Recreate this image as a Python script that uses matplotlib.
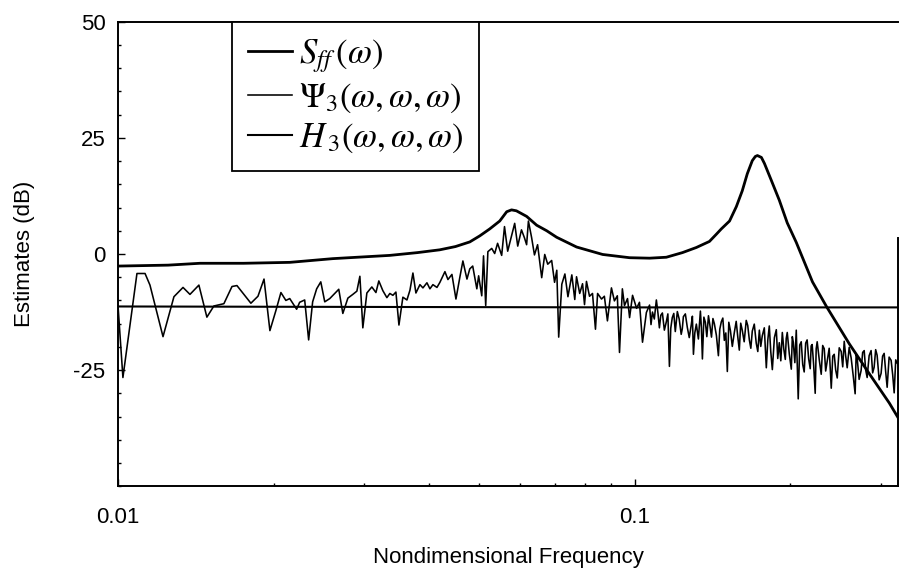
import matplotlib.pyplot as plt
from matplotlib.ticker import LogLocator, MultipleLocator, NullFormatter

# input spectrum S_ff (dB)
sff_freq = [0.01, 0.0125, 0.01441, 0.0175, 0.02151, 0.02605, 0.03358, 0.038,
            0.04196, 0.045, 0.04797, 0.05015,
            0.05243, 0.05482, 0.05655, 0.05778, 0.05905, 0.0618, 0.06463, 0.0676,
            0.07066, 0.07723, 0.08672, 0.09779, 0.1069, 0.1152, 0.1238, 0.1317,
            0.1396, 0.1441, 0.1472,
            0.1527, 0.1574, 0.1616, 0.1653, 0.169, 0.1713, 0.1729, 0.176, 0.1784,
            0.1839, 0.1906, 0.1975, 0.2056, 0.221, 0.2352, 0.2606, 0.2848, 0.3113,
            0.3255]
sff_db = [-2.6, -2.4, -2.0, -2.0, -1.8, -1.0, -0.3, 0.3,
          0.9, 1.6, 2.6, 3.9,
          5.4, 7.1, 9.1, 9.5, 9.3, 8.1, 6.2, 5.0,
          3.6, 1.5, -0.1, -0.8, -0.9, -0.7, 0.3, 1.4,
          2.7, 4.3, 5.4,
          7.1, 10.2, 13.6, 17.3, 20.1, 21.0, 21.2, 20.8, 19.5,
          15.9, 11.6, 6.7, 2.5, -6.0, -11.3, -19.4, -25.8, -32.1,
          -35.7]

# Psi_3(w,w,w) estimate (dB), low-frequency part
psi_lo_freq = [0.01, 0.01022, 0.01088, 0.01128, 0.01153, 0.01222, 0.01283, 0.01336,
               0.01378, 0.01434, 0.01486, 0.01533, 0.01603, 0.01662, 0.01699, 0.01808,
               0.01866, 0.01917, 0.01968, 0.02021, 0.02067, 0.02113, 0.0215,
               0.02217, 0.02247, 0.02298, 0.02339, 0.02381, 0.02424, 0.02469, 0.02513,
               0.0257, 0.02675, 0.02724, 0.02786, 0.02848, 0.029, 0.02939, 0.02978,
               0.03032, 0.031, 0.03157, 0.03198, 0.03256, 0.03315, 0.03359, 0.03405,
               0.03451, 0.03498, 0.0356, 0.03625, 0.03674, 0.03723, 0.03773, 0.03841,
               0.03893, 0.03963, 0.04016, 0.0407, 0.04144, 0.04199, 0.04294, 0.04352,
               0.0443, 0.0451, 0.04591, 0.04652, 0.04737,
               0.04797, 0.0486, 0.0495, 0.0499, 0.0506, 0.051, 0.0515, 0.052,
               0.0529, 0.0536, 0.0543, 0.0553, 0.056, 0.0568, 0.0578, 0.0586,
               0.0594, 0.0604, 0.0612, 0.0618, 0.0623, 0.0632, 0.064, 0.0649,
               0.0661, 0.067, 0.0679, 0.0691, 0.07, 0.0707, 0.0713, 0.0723,
               0.0733, 0.0743, 0.0756, 0.0766, 0.0772, 0.0783, 0.0793, 0.08,
               0.0807, 0.0818, 0.0829, 0.084, 0.0848, 0.0863, 0.0874, 0.0886,
               0.0902, 0.0914, 0.0926, 0.0935, 0.0947, 0.0956, 0.0969, 0.0978,
               0.0991, 0.1009, 0.1022, 0.1036, 0.1054]
psi_lo_db = [-11.2, -26.6, -4.2, -4.2, -6.7, -17.8, -9.2, -7.2,
             -8.7, -6.7, -13.6, -11.2, -10.7, -7.0, -6.8, -10.6,
             -9.1, -5.4, -16.5, -12.2, -8.3, -10.0, -9.6,
             -11.9, -10.4, -9.9, -18.5, -10.3, -7.5, -6.0, -10.3,
             -9.6, -7.6, -12.8, -9.5, -8.7, -8.0, -4.8, -15.9,
             -8.4, -7.1, -8.3, -5.8, -7.9, -9.4, -8.5, -8.9,
             -8.2, -15.3, -9.3, -9.9, -7.8, -4.1, -8.4, -6.6,
             -7.3, -6.2, -7.5, -6.6, -7.2, -6.1, -3.8, -5.5,
             -4.4, -9.7, -4.9, -1.5, -5.4,
             -3.2, -2.6, -7.5, -4.7, -9.0, -0.4, -11.1, 0.5,
             1.2, 0.1, 2.3, -0.3, 5.9, 0.6, 4.0, 6.6,
             1.7, 5.2, 3.5, 2.0, 7.1, 3.5, -0.2, 2.0,
             -5.1, -0.1, -2.2, -1.4, -6.1, -3.5, -17.9, -6.5,
             -4.3, -9.2, -4.5, -9.8, -4.9, -8.5, -6.4, -10.9,
             -5.9, -9.1, -8.5, -16.2, -8.5, -9.7, -9.1, -14.4,
             -7.3, -10.1, -9.0, -21.2, -7.5, -11.1, -9.6, -13.7,
             -8.9, -11.7, -10.4, -19.0, -12.6]

# Psi_3(w,w,w) estimate (dB), high-frequency part
psi_hi_freq = [0.1069, 0.1076, 0.1083, 0.1092, 0.1102, 0.111, 0.1117, 0.1124,
               0.1132, 0.1142, 0.1152, 0.116, 0.1168, 0.1175, 0.1183, 0.1191,
               0.1199, 0.1204, 0.121, 0.122, 0.1231, 0.1237, 0.1243, 0.1254,
               0.1265, 0.1276, 0.1288, 0.1294, 0.13, 0.1308, 0.1317, 0.1329,
               0.1341, 0.1347, 0.1353, 0.1362, 0.1371, 0.138, 0.139, 0.14,
               0.1409, 0.1418, 0.1427, 0.144, 0.1453, 0.1462, 0.1472, 0.1482,
               0.1492, 0.1502, 0.1512, 0.1522, 0.1533, 0.154, 0.1546, 0.156,
               0.1573, 0.1584, 0.1595, 0.1605, 0.1616, 0.163, 0.1645, 0.1656,
               0.1668, 0.1679, 0.169, 0.1705, 0.172, 0.1732, 0.1744, 0.1755,
               0.1767, 0.1783, 0.1799, 0.1811,
               0.1823, 0.1835, 0.1848, 0.1865, 0.1881, 0.1893, 0.1906, 0.1919,
               0.1932, 0.1945, 0.1958, 0.1966, 0.1975, 0.1993, 0.2011, 0.202,
               0.2029, 0.2043, 0.2056, 0.2074, 0.2088, 0.2102, 0.2116, 0.213,
               0.2144, 0.2158, 0.2173, 0.2188, 0.2197, 0.2207, 0.2222, 0.2237,
               0.2247, 0.2257, 0.2278, 0.2298, 0.2313, 0.2329, 0.2344, 0.236,
               0.2381, 0.2403, 0.2419, 0.2435, 0.2451, 0.2468, 0.249, 0.2512,
               0.2529, 0.2546, 0.2563, 0.258, 0.2603, 0.2626, 0.265, 0.2673,
               0.2685, 0.2697, 0.2721, 0.2745, 0.2764, 0.2783, 0.2801, 0.282,
               0.2845, 0.287, 0.289, 0.2909, 0.2929, 0.2948, 0.2975, 0.3001,
               0.3021, 0.3042, 0.3062, 0.3083, 0.311, 0.3138, 0.316, 0.3181,
               0.3203, 0.3224]
psi_hi_db = [-11.0, -15.2, -12.5, -14.0, -9.9, -12.8, -15.9, -13.2,
             -12.7, -16.4, -14.6, -12.9, -24.2, -16.0, -13.7, -12.8,
             -16.7, -14.8, -12.4, -14.0, -17.3, -16.1, -13.5, -12.9,
             -15.8, -18.0, -15.1, -13.4, -21.6, -17.0, -15.1, -18.3,
             -12.3, -15.9, -22.6, -13.6, -14.7, -17.8, -13.3, -15.6,
             -17.9, -13.9, -15.0, -17.5, -21.9, -16.2, -14.6, -13.8,
             -18.6, -17.0, -25.3, -14.7, -16.5, -18.3, -19.9, -16.9,
             -14.5, -17.8, -20.7, -14.9, -16.4, -18.9, -14.3, -15.4,
             -18.5, -20.3, -16.6, -15.1, -19.2, -21.0, -16.4, -19.9,
             -17.6, -15.9, -24.5, -18.5,
             -15.5, -21.0, -24.9, -18.0, -16.3, -22.5, -19.1, -23.0,
             -16.9, -20.5, -22.7, -18.2, -16.9, -21.5, -24.8, -17.8,
             -19.0, -23.4, -16.4, -31.2, -19.6, -18.9, -23.8, -25.4,
             -19.2, -18.5, -22.6, -24.7, -19.8, -19.5, -24.0, -30.0,
             -20.4, -18.9, -22.8, -25.9, -19.7, -20.4, -25.2, -23.1,
             -20.3, -28.9, -22.0, -21.6, -25.0, -26.7, -20.2, -21.0,
             -24.3, -18.8, -22.0, -24.5, -20.1, -22.4, -26.2, -30.1,
             -21.5, -22.4, -27.0, -25.1, -21.2, -20.8, -24.9, -26.6,
             -21.9, -20.8, -25.6, -24.4, -20.6, -21.8, -27.1, -25.7,
             -22.0, -21.4, -25.2, -28.7, -22.2, -22.9, -26.0, -29.9,
             -22.8, -23.5]

# H_3(w,w,w) kernel (dB)
h3_freq = [0.01, 0.03, 0.1, 0.324]
h3_db = [-11.3, -11.4, -11.5, -11.5]

x_ticks = [0.01, 0.1]
x_tick_labels = ['0.01', '0.1']
y_ticks = [-25, 0, 25, 50]
y_tick_labels = ['-25', '0', '25', '50']

plt.rcParams['font.family'] = ['Liberation Sans', 'DejaVu Sans']
plt.rcParams['mathtext.fontset'] = 'stix'

fig = plt.figure(figsize=(9.01, 5.74), dpi=100)
ax = fig.add_axes([0.131, 0.153, 0.866, 0.809])

psi_freq = psi_lo_freq + psi_hi_freq
psi_db = psi_lo_db + psi_hi_db

ax.plot(sff_freq, sff_db, color='black', lw=2.0, label=r'$S_{ff}\,(\omega)$')
ax.plot(psi_freq, psi_db, color='black', lw=1.15, label=r'$\Psi_3(\omega,\omega,\omega)$')
ax.plot(h3_freq, h3_db, color='black', lw=1.5, label=r'$H_{\,3}(\omega,\omega,\omega)$')

ax.set_xscale('log')
ax.set_xlim(0.01, 0.324)
ax.set_ylim(-50, 50)

ax.set_xticks(x_ticks, x_tick_labels)
ax.xaxis.set_minor_locator(LogLocator(base=10, subs=range(2, 10)))
ax.xaxis.set_minor_formatter(NullFormatter())
ax.set_yticks(y_ticks, y_tick_labels)
ax.yaxis.set_minor_locator(MultipleLocator(5))

ax.tick_params(which='both', direction='in', labelsize=16, width=1.0)
ax.tick_params(which='major', length=5)
ax.tick_params(which='minor', length=2.5)
ax.tick_params(axis='x', pad=15)
ax.tick_params(axis='y', pad=9)

for s in ax.spines.values():
    s.set_linewidth(1.4)
ax.spines['right'].set_bounds(-50, 3.5)

ax.set_xlabel('Nondimensional Frequency', fontsize=16, labelpad=14)
ax.set_ylabel('Estimates (dB)', fontsize=16, labelpad=28)

leg = ax.legend(loc='upper left', bbox_to_anchor=(0.146, 1.0), borderaxespad=0,
                fancybox=False, edgecolor='black', framealpha=1, fontsize=25,
                handlelength=1.27, handletextpad=0.2, borderpad=0.45, labelspacing=0.17)
leg.get_frame().set_linewidth(1.3)

plt.savefig('out.png', dpi=100)
